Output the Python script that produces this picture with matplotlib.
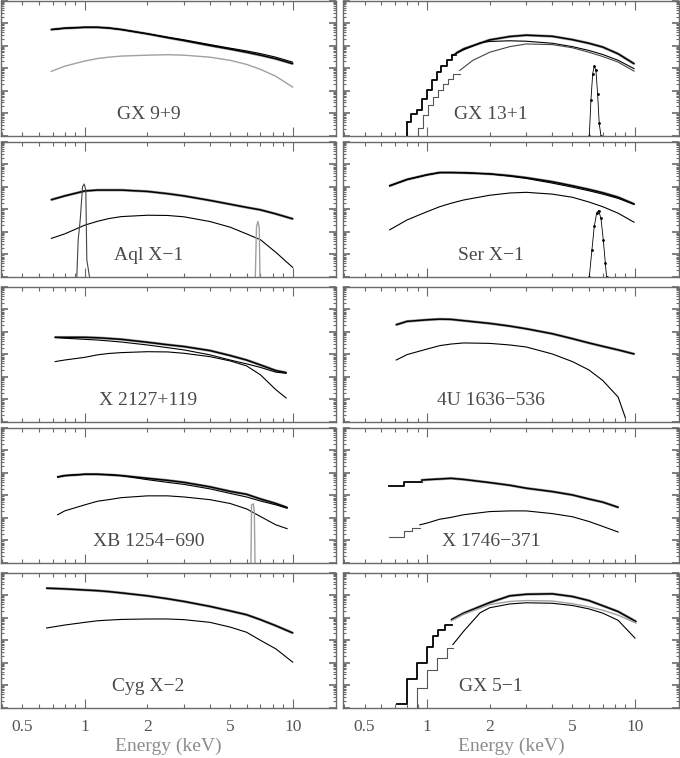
import numpy as np
import matplotlib.pyplot as plt

plt.rcParams['font.family'] = ['Liberation Serif', 'DejaVu Serif']

# ------------------------------
# data: energies in keV, fluxes as log10 (arbitrary units, 6 decades per panel)
# ------------------------------
# GX 9+9
gx99_e = [0.69, 0.8, 1.0, 1.15, 1.3, 1.5, 2.0, 2.5, 3.0, 4.0, 5.0, 6.0, 7.0, 8.3, 10.0]
gx99_data = [1.72, 1.78, 1.82, 1.82, 1.79, 1.72, 1.53, 1.36, 1.23, 1.01, 0.85, 0.71, 0.58, 0.42, 0.20]
gx99_model = [1.72, 1.78, 1.82, 1.82, 1.79, 1.72, 1.53, 1.38, 1.26, 1.05, 0.89, 0.77, 0.65, 0.49, 0.27]
gx99_comp = [-0.14, 0.09, 0.32, 0.43, 0.49, 0.54, 0.58, 0.60, 0.58, 0.49, 0.35, 0.17, -0.05, -0.36, -0.84]

# GX 13+1
gx131_step_e = [0.80, 0.84, 0.89, 0.94, 1.0, 1.05, 1.11, 1.17, 1.24, 1.31, 1.38]
gx131_step = [-2.38, -2.02, -1.87, -1.35, -0.95, -0.54, -0.17, 0.12, 0.35, 0.57]
gx131_e = [1.38, 1.5, 2.0, 2.5, 3.0, 4.0, 5.0, 6.0, 7.0, 8.3, 9.9]
gx131_data = [0.67, 0.86, 1.26, 1.41, 1.47, 1.42, 1.27, 1.11, 0.94, 0.64, 0.20]
gx131_soft_e = [1.31, 1.5, 1.8, 2.0, 2.5, 3.0, 4.0, 5.0, 6.0, 7.0, 8.3, 9.9]
gx131_soft = [0.57, 0.82, 1.13, 1.19, 1.22, 1.20, 1.11, 0.96, 0.79, 0.61, 0.35, -0.02]
gx131_hstep_e = [0.905, 0.957, 1.011, 1.069, 1.129, 1.193, 1.261, 1.332, 1.435]
gx131_hstep = [-2.68, -2.09, -1.65, -1.28, -0.98, -0.69, -0.47, -0.25]
gx131_hard_e = [1.435, 1.66, 2.0, 2.5, 3.0, 4.0, 5.0, 6.0, 7.0, 8.3, 9.9]
gx131_hard = [-0.10, 0.35, 0.71, 0.96, 1.08, 1.05, 0.91, 0.71, 0.52, 0.27, -0.13]
gx131_fe_e = [6.03, 6.14, 6.26, 6.37, 6.49, 6.61, 6.73, 6.86]
gx131_fe = [-3.0, -1.43, -0.25, 0.09, -0.10, -1.13, -2.46, -3.0]

# Aql X-1
aql_e = [0.69, 0.8, 1.0, 1.15, 1.3, 1.5, 2.0, 2.5, 3.0, 4.0, 5.0, 6.0, 7.0, 8.3, 10.0]
aql_data = [0.43, 0.60, 0.82, 0.86, 0.86, 0.86, 0.80, 0.70, 0.60, 0.40, 0.23, 0.09, -0.02, -0.20, -0.42]
aql_comp = [-1.29, -1.09, -0.70, -0.53, -0.41, -0.32, -0.26, -0.27, -0.33, -0.54, -0.79, -1.09, -1.35, -1.91, -2.58]
aql_l1_e = [0.915, 0.929, 0.950, 0.975, 0.993, 1.011, 1.022, 1.037, 1.053]
aql_l1 = [-3.0, -1.35, -0.47, 1.01, 1.13, 0.86, -2.24, -2.61, -3.0]
aql_l2_e = [6.61, 6.70, 6.81, 6.91, 6.96]
aql_l2 = [-3.0, -0.76, -0.54, -0.84, -3.0]

# Ser X-1
ser_e = [0.66, 0.8, 1.0, 1.15, 1.3, 1.5, 2.0, 2.5, 3.0, 4.0, 5.0, 6.0, 7.0, 8.3, 9.9]
ser_data = [1.05, 1.33, 1.54, 1.64, 1.64, 1.63, 1.58, 1.50, 1.41, 1.23, 1.05, 0.89, 0.74, 0.54, 0.24]
ser_model = [1.05, 1.33, 1.54, 1.64, 1.64, 1.63, 1.58, 1.48, 1.38, 1.17, 0.99, 0.83, 0.68, 0.49, 0.23]
ser_comp = [-0.91, -0.47, -0.10, 0.12, 0.27, 0.42, 0.63, 0.73, 0.76, 0.68, 0.54, 0.33, 0.12, -0.17, -0.57]
ser_fe_e = [6.03, 6.21, 6.37, 6.54, 6.68, 6.86, 7.04, 7.20, 7.30]
ser_fe = [-3.0, -1.79, -0.76, -0.17, -0.05, -0.39, -1.35, -2.38, -3.0]

# X 2127+119
x2127_e = [0.72, 0.8, 1.0, 1.15, 1.3, 1.5, 2.0, 2.5, 3.0, 4.0, 5.0, 6.0, 7.0, 8.3, 9.3]
x2127_data = [0.76, 0.76, 0.76, 0.74, 0.71, 0.67, 0.54, 0.43, 0.35, 0.17, -0.05, -0.25, -0.47, -0.72, -0.81]
x2127_mid = [0.76, 0.72, 0.67, 0.64, 0.60, 0.55, 0.42, 0.30, 0.20, -0.02, -0.25, -0.42, -0.58, -0.79, -0.84]
x2127_comp = [-0.32, -0.25, -0.13, -0.02, 0.04, 0.08, 0.12, 0.11, 0.05, -0.10, -0.29, -0.51, -0.91, -1.57, -1.94]

# 4U 1636-536
u1636_e = [0.71, 0.8, 1.0, 1.15, 1.3, 1.5, 2.0, 2.5, 3.0, 4.0, 5.0, 6.0, 7.0, 8.3, 9.9]
u1636_data = [1.32, 1.47, 1.54, 1.57, 1.56, 1.50, 1.38, 1.26, 1.14, 0.92, 0.70, 0.51, 0.36, 0.20, 0.02]
u1636_comp_e = [0.71, 0.8, 1.0, 1.15, 1.3, 1.5, 2.0, 2.5, 3.0, 4.0, 5.0, 6.0, 7.0, 8.3, 9.0]
u1636_comp = [-0.25, -0.01, 0.24, 0.39, 0.46, 0.51, 0.49, 0.42, 0.33, 0.02, -0.32, -0.69, -1.16, -1.90, -2.83]

# XB 1254-690
xb_e = [0.74, 0.8, 1.0, 1.15, 1.3, 1.5, 2.0, 2.5, 3.0, 4.0, 5.0, 6.0, 7.0, 8.3, 9.4]
xb_data = [0.82, 0.88, 0.94, 0.94, 0.92, 0.88, 0.76, 0.67, 0.58, 0.38, 0.18, 0.05, -0.16, -0.36, -0.54]
xb_model = [0.82, 0.88, 0.94, 0.94, 0.92, 0.88, 0.70, 0.58, 0.49, 0.29, 0.09, -0.07, -0.25, -0.42, -0.57]
xb_comp = [-0.86, -0.69, -0.42, -0.26, -0.19, -0.10, -0.02, -0.02, -0.07, -0.19, -0.36, -0.60, -0.94, -1.31, -1.48]
xb_fe_e = [6.30, 6.34, 6.47, 6.54, 6.59]
xb_fe = [-3.0, -0.42, -0.38, -0.75, -3.0]

# X 1746-371
x1746_step_e = [0.657, 0.776, 0.94]
x1746_step = [0.42, 0.61]
x1746_e = [0.94, 1.0, 1.15, 1.3, 1.5, 2.0, 2.5, 3.0, 4.0, 5.0, 6.0, 7.0, 8.3]
x1746_data = [0.68, 0.70, 0.73, 0.76, 0.71, 0.57, 0.45, 0.32, 0.17, 0.02, -0.16, -0.30, -0.53]
x1746_cstep_e = [0.657, 0.776, 0.842, 0.923]
x1746_cstep = [-1.87, -1.57, -1.45]
x1746_comp_e = [0.923, 1.0, 1.15, 1.3, 1.5, 2.0, 2.5, 3.0, 4.0, 5.0, 6.0, 7.0, 8.3]
x1746_comp = [-1.31, -1.23, -1.06, -0.98, -0.86, -0.72, -0.69, -0.69, -0.81, -0.95, -1.16, -1.38, -1.63]

# Cyg X-2
cyg_e = [0.655, 0.8, 1.0, 1.15, 1.3, 1.5, 2.0, 2.5, 3.0, 4.0, 5.0, 6.0, 7.0, 8.3, 10.0]
cyg_data = [2.31, 2.28, 2.23, 2.20, 2.16, 2.10, 1.97, 1.84, 1.72, 1.50, 1.30, 1.13, 0.91, 0.64, 0.32]
cyg_comp = [0.54, 0.67, 0.79, 0.86, 0.89, 0.92, 0.94, 0.94, 0.91, 0.79, 0.58, 0.35, -0.01, -0.39, -0.98]

# GX 5-1
gx51_step_e = [0.713, 0.797, 0.890, 0.993, 1.069, 1.129, 1.216, 1.31]
gx51_step = [-2.86, -1.75, -1.04, -0.30, 0.17, 0.46, 0.68]
gx51_e = [1.31, 1.5, 2.0, 2.5, 3.0, 4.0, 5.0, 6.0, 7.0, 8.3, 10.1]
gx51_data = [0.91, 1.20, 1.67, 1.97, 2.04, 2.06, 1.94, 1.76, 1.53, 1.27, 0.83]
gx51_mid = [0.86, 1.15, 1.58, 1.72, 1.76, 1.74, 1.62, 1.48, 1.33, 1.11, 0.76]
gx51_cstep_e = [0.890, 0.993, 1.11, 1.24, 1.33]
gx51_cstep = [-2.12, -1.31, -0.79, -0.35]
gx51_comp_e = [1.33, 1.5, 1.8, 2.0, 2.5, 3.0, 4.0, 5.0, 6.0, 7.0, 8.3, 10.0]
gx51_comp = [-0.20, 0.40, 1.22, 1.44, 1.61, 1.66, 1.64, 1.54, 1.39, 1.20, 0.88, 0.09]

YLO, YHI = -3, 3
FRAME = '#6a6a6a'
GRAY = '#a0a0a0'

# (row, col, name, curves)
panels = [
    (0, 0, "GX 9+9", [("data", gx99_e, gx99_data), ("line", gx99_e, gx99_model),
                      ("gray", gx99_e, gx99_comp)]),
    (0, 1, "GX 13+1", [("step", gx131_step_e, gx131_step, True), ("data", gx131_e, gx131_data),
                       ("line", gx131_soft_e, gx131_soft),
                       ("gstep", gx131_hstep_e, gx131_hstep, True), ("dark", gx131_hard_e, gx131_hard),
                       ("fe", gx131_fe_e, gx131_fe)]),
    (1, 0, "Aql X\u22121", [("data", aql_e, aql_data), ("line", aql_e, aql_comp),
                            ("dark", aql_l1_e, aql_l1), ("gray", aql_l2_e, aql_l2)]),
    (1, 1, "Ser X\u22121", [("data", ser_e, ser_data), ("line", ser_e, ser_model),
                            ("line", ser_e, ser_comp), ("fe", ser_fe_e, ser_fe)]),
    (2, 0, "X 2127+119", [("data", x2127_e, x2127_data), ("line", x2127_e, x2127_mid),
                          ("line", x2127_e, x2127_comp)]),
    (2, 1, "4U 1636\u2212536", [("data", u1636_e, u1636_data), ("line", u1636_comp_e, u1636_comp)]),
    (3, 0, "XB 1254\u2212690", [("data", xb_e, xb_data), ("line", xb_e, xb_model),
                                ("line", xb_e, xb_comp), ("gray", xb_fe_e, xb_fe)]),
    (3, 1, "X 1746\u2212371", [("step", x1746_step_e, x1746_step, False), ("data", x1746_e, x1746_data),
                               ("gstep", x1746_cstep_e, x1746_cstep, False), ("line", x1746_comp_e, x1746_comp)]),
    (4, 0, "Cyg X\u22122", [("data", cyg_e, cyg_data), ("line", cyg_e, cyg_comp)]),
    (4, 1, "GX 5\u22121", [("step", gx51_step_e, gx51_step, False), ("data", gx51_e, gx51_data),
                           ("gray", gx51_e, gx51_mid),
                           ("gstep", gx51_cstep_e, gx51_cstep, True), ("line", gx51_comp_e, gx51_comp)]),
]

W, H = 680, 758
fig = plt.figure(figsize=(W / 100, H / 100), dpi=100)

col_x = [1.0, 343.3]
row_top = [0.8, 142.0, 287.0, 428.0, 572.7]
pw, ph = 335.2, 134.8

minor_x = [0.4, 0.5, 0.6, 0.7, 0.8, 0.9, 2, 3, 4, 5, 6, 7, 8, 9]
minor_lab = ['', '0.5', '', '', '', '', '2', '', '', '5', '', '', '', '']


def fx(v):
    return 10 ** np.asarray(v, dtype=float)


for row, col, name, curves in panels:
    ax = fig.add_axes([col_x[col] / W, 1 - (row_top[row] + ph) / H, pw / W, ph / H])
    ax.set_xscale('log')
    ax.set_yscale('log')

    for c in curves:
        kind, e, v = c[0], c[1], c[2]
        if kind == "data":
            ax.plot(e, fx(v), color=GRAY, lw=2.0, solid_capstyle='butt')
            ax.plot(e, fx(v), color='black', lw=1.1)
        elif kind == "line":
            ax.plot(e, fx(v), color='black', lw=0.8)
        elif kind == "dark":
            ax.plot(e, fx(v), color='#444444', lw=0.8)
        elif kind == "gray":
            ax.plot(e, fx(v), color=GRAY, lw=1.0)
        elif kind == "fe":
            ax.plot(e, fx(v), color='black', lw=0.6, marker='.', ms=2.0)
        elif kind in ("step", "gstep"):
            color = 'black' if kind == "step" else '#555555'
            lw = 1.3 if kind == "step" else 0.8
            ax.step(e, fx(list(v) + [v[-1]]), where='post', color=color, lw=lw)
            if c[3]:
                ax.vlines(e[0], 10 ** YLO, 10 ** v[0], color=color, lw=lw)

    ax.text(0.44, 0.155, name, transform=ax.transAxes, ha='center', va='center',
            fontsize=14, color='#4a4a4a')

    ax.set_xlim(0.395, 16.2)
    ax.set_ylim(10 ** YLO, 10 ** YHI)

    ax.set_xticks([1, 10])
    ax.set_xticks(minor_x, minor=True)
    ax.yaxis.set_major_locator(plt.LogLocator(base=10, numticks=12))
    ax.yaxis.set_minor_locator(plt.LogLocator(base=10, subs=np.arange(2, 10), numticks=12))
    ax.yaxis.set_major_formatter(plt.NullFormatter())
    ax.yaxis.set_minor_formatter(plt.NullFormatter())

    ax.tick_params(which='both', direction='in', top=True, right=True, color=FRAME,
                   labelcolor='#555555', labelsize=12.5)
    ax.tick_params(axis='x', which='major', length=6.5, width=0.8, pad=8)
    ax.tick_params(axis='x', which='minor', length=3.2, width=0.8, pad=8)
    ax.tick_params(axis='y', which='major', length=5, width=1.2)
    ax.tick_params(axis='y', which='minor', length=2.5, width=0.8)

    for sp in ax.spines.values():
        sp.set_color(FRAME)
        sp.set_linewidth(1.0)

    if row == 4:
        ax.set_xticklabels(['1', '10'])
        ax.set_xticklabels(minor_lab, minor=True)
        ax.set_xlabel('Energy (keV)', fontsize=14, color='#8c8c8c', labelpad=2)
    else:
        ax.tick_params(axis='x', which='both', labelbottom=False)

fig.savefig('out.png', dpi=100)
